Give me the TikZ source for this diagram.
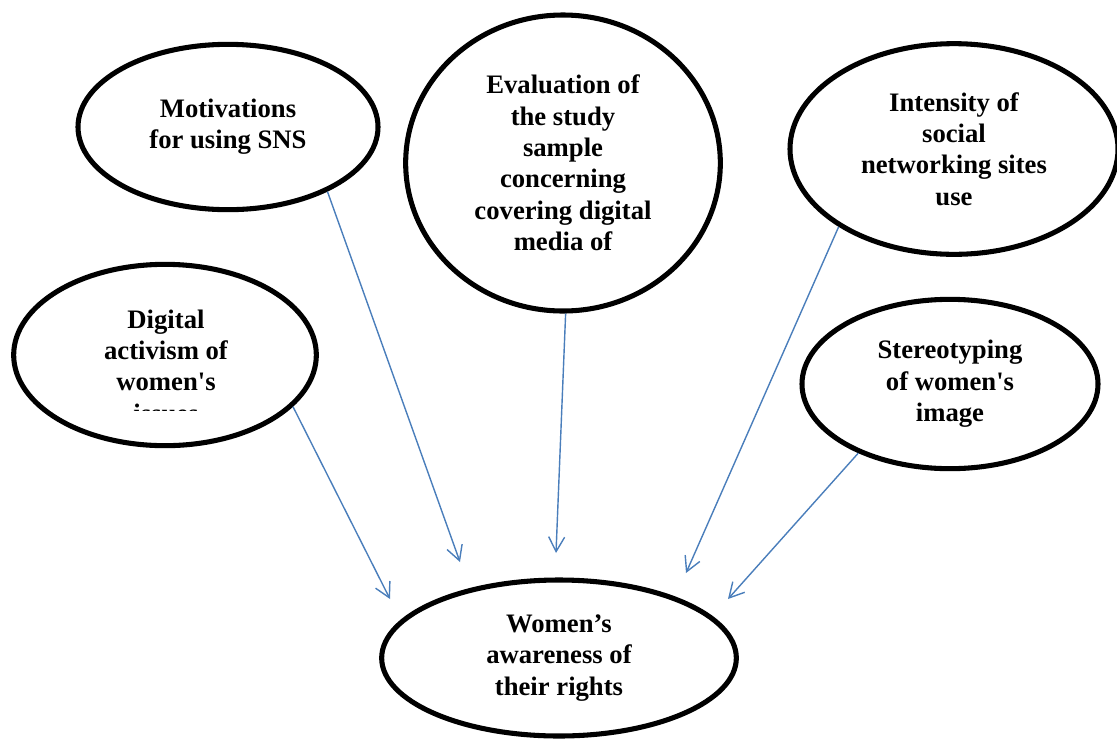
\documentclass[tikz,border=0pt]{standalone}
\usepackage{fontspec}
\setmainfont{Liberation Serif}
\usetikzlibrary{shapes.geometric,arrows.meta}
\definecolor{linkblue}{RGB}{74,126,187}
\begin{document}
\begin{tikzpicture}[x=0.75pt,y=-0.75pt,
		oval/.style={ellipse,draw,line width=3.8pt,inner sep=0pt,align=center,font=\fontsize{20}{23.5}\selectfont\bfseries},
		txt/.style={align=center,inner sep=0pt,font=\fontsize{20}{23.5}\selectfont\bfseries},
		flow/.style={draw=linkblue,line width=1.05pt,-{Straight Barb[length=11pt,width=12pt]}}]
		\useasboundingbox (0,0) rectangle (1117,740);
		
		\node[oval,minimum width=225pt,minimum height=124pt] (mot) at (228,127) {Motivations\\for using SNS};
		\node[oval,minimum width=236pt,minimum height=222pt] (eva) at (563,163) {Evaluation of\\the study\\sample\\concerning\\covering digital\\media of};
		\node[oval,minimum width=246pt,minimum height=158pt] (int) at (954,149) {Intensity of\\social\\networking sites\\use};
		\node[oval,minimum width=227pt,minimum height=136pt] (dig) at (165,355) {};
		\node[oval,minimum width=222pt,minimum height=127pt] (ste) at (950,384) {Stereotyping\\of women\textquotesingle s\\image};
		\node[oval,minimum width=266pt,minimum height=117pt] (wom) at (559,658) {Women’s\\awareness of\\their rights};
		
		% last line of the box is cut off
		\begin{scope}
			\clip (0,250) rectangle (330,410);
			\node[txt] (diglbl) at (166,366) {Digital\\activism of\\women\textquotesingle s\\issues};
		\end{scope}
		
		\coordinate (t1) at (460,562);
		\coordinate (t2) at (556,553);
		\coordinate (t3) at (686,573);
		\coordinate (t4) at (390,599);
		\coordinate (t5) at (728,599);
		
		\draw[flow] (mot.-33) -- (t1);
		\draw[flow] (eva.-89) -- (t2);
		\draw[flow] (int.-146) -- (t3);
		\draw[flow] (dig.-22) -- (t4);
		\draw[flow] (ste.-143) -- (t5);
\end{tikzpicture}
\end{document}
